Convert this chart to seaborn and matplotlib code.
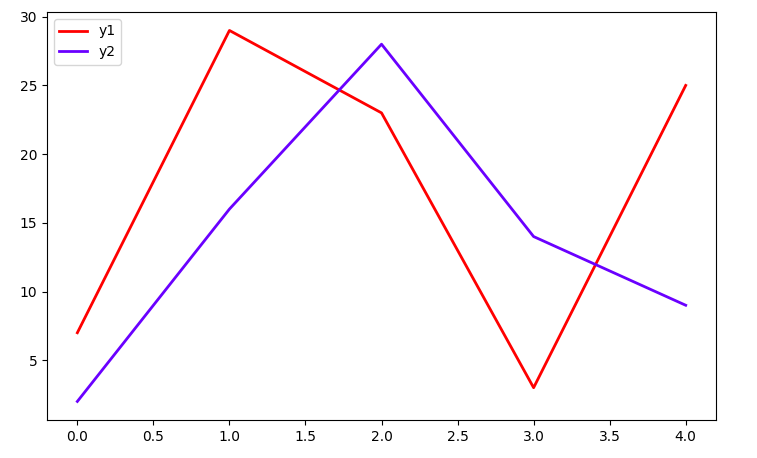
import matplotlib
matplotlib.use("Agg")
import matplotlib.pyplot as plt
import seaborn as sns
import pandas as pd

x = [0, 1, 2, 3, 4]
y1 = [7, 29, 23, 3, 25]
y2 = [2, 16, 28, 14, 9]

df = pd.DataFrame({"x": x * 2, "y": y1 + y2, "series": ["y1"] * 5 + ["y2"] * 5})

plt.rcParams['font.family'] = ['DejaVu Sans']
fig, ax = plt.subplots(figsize=(7.57, 4.58), dpi=100)
fig.subplots_adjust(left=0.062, right=0.946, top=0.974, bottom=0.083)
sns.lineplot(data=df, x="x", y="y", hue="series", palette=["#ff0000", "#6a00ff"],
             linewidth=2, ax=ax)
ax.set_xlabel("")
ax.set_ylabel("")
ax.legend(title=None, loc="upper left")
ax.set_yticks([5, 10, 15, 20, 25, 30])
ax.tick_params(labelsize=10)
fig.savefig("out.png", dpi=100)
